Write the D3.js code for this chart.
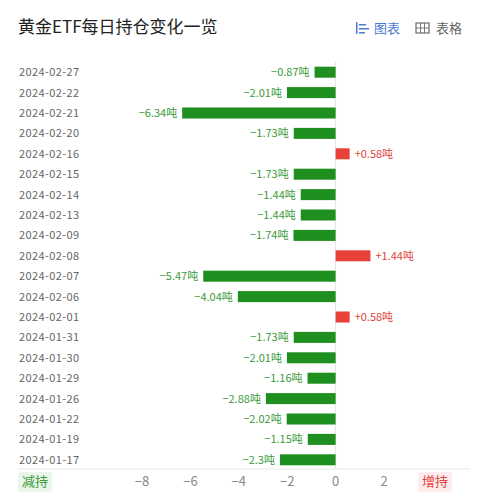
<!DOCTYPE html><html><head><meta charset="utf-8"><script src="https://cdn.jsdelivr.net/npm/d3@7"></script>
<style>body{margin:0;background:#fff;font-family:"Noto Sans CJK SC","Noto Sans",sans-serif}</style></head><body><svg id="c" width="480" height="499"></svg>
<script>
const dates=["2024-02-27","2024-02-22","2024-02-21","2024-02-20","2024-02-16","2024-02-15","2024-02-14","2024-02-13","2024-02-09","2024-02-08","2024-02-07","2024-02-06","2024-02-01","2024-01-31","2024-01-30","2024-01-29","2024-01-26","2024-01-22","2024-01-19","2024-01-17"];
const values=[-0.87,-2.01,-6.34,-1.73,0.58,-1.73,-1.44,-1.44,-1.74,1.44,-5.47,-4.04,0.58,-1.73,-2.01,-1.16,-2.88,-2.02,-1.15,-2.3];
const ticks=[-8,-6,-4,-2,0,2];
const svg=d3.select("#c");
const x=d3.scaleLinear().domain([-8,2]).range([142,384]);
const y=d3.scaleBand().domain(dates).range([62,470]).paddingInner(0.46).paddingOuter(0.23);
svg.append("text").attr("x",18).attr("y",33).attr("font-size",17).attr("fill","#222").text("黄金ETF每日持仓变化一览");
const g1=svg.append("g");
g1.append("rect").attr("x",356).attr("y",22).attr("width",1.5).attr("height",12).attr("fill","#4a7bd6");
[[24,7],[28,10],[32,6]].forEach(d=>g1.append("rect").attr("x",359).attr("y",d[0]).attr("width",d[1]).attr("height",1.5).attr("fill","#4a7bd6"));
svg.append("text").attr("x",374).attr("y",33).attr("font-size",13).attr("fill","#4a7bd6").text("图表");
svg.append("rect").attr("x",416).attr("y",23).attr("width",13).attr("height",10).attr("fill","none").attr("stroke","#777").attr("stroke-width",1.3);
svg.append("line").attr("x1",416).attr("x2",429).attr("y1",28).attr("y2",28).attr("stroke","#777");
svg.append("line").attr("x1",420.5).attr("x2",420.5).attr("y1",23).attr("y2",33).attr("stroke","#777");
svg.append("line").attr("x1",424.5).attr("x2",424.5).attr("y1",23).attr("y2",33).attr("stroke","#777");
svg.append("text").attr("x",436).attr("y",33).attr("font-size",13).attr("fill","#666").text("表格");
svg.append("line").attr("x1",x(0)).attr("x2",x(0)).attr("y1",62).attr("y2",469).attr("stroke","#e4e4e4");
svg.append("line").attr("x1",18).attr("x2",470).attr("y1",469).attr("y2",469).attr("stroke","#e8e8e8");
dates.forEach((d,i)=>{
 const v=values[i],cy=y(d)+y.bandwidth()/2;
 svg.append("text").attr("x",19).attr("y",cy+4).attr("font-size",11).attr("letter-spacing",0.4).attr("fill","#666").text(d);
 svg.append("rect").attr("x",x(Math.min(0,v))).attr("y",y(d)).attr("width",Math.abs(x(v)-x(0))).attr("height",y.bandwidth()).attr("fill",v<0?"#1f8f1f":"#e8413a");
 const t=svg.append("text").attr("y",cy+4).attr("font-size",11).attr("fill",v<0?"#3a9a3a":"#e0443c").text((v>0?"+":"−")+Math.abs(v)+"吨");
 if(v<0)t.attr("x",x(v)-5).attr("text-anchor","end");else t.attr("x",x(v)+5);
});
ticks.forEach(t=>svg.append("text").attr("x",x(t)).attr("y",486).attr("text-anchor","middle").attr("font-size",13).attr("fill","#888").text(t<0?"−"+(-t):t));
svg.append("rect").attr("x",18).attr("y",472).attr("width",34).attr("height",20).attr("rx",3).attr("fill","#e9f6e9");
svg.append("text").attr("x",35).attr("y",486).attr("text-anchor","middle").attr("font-size",13).attr("fill","#3a9a3a").text("减持");
svg.append("rect").attr("x",418).attr("y",472).attr("width",34).attr("height",20).attr("rx",3).attr("fill","#fdeceb");
svg.append("text").attr("x",435).attr("y",486).attr("text-anchor","middle").attr("font-size",13).attr("fill","#e0443c").text("增持");
</script></body></html>
